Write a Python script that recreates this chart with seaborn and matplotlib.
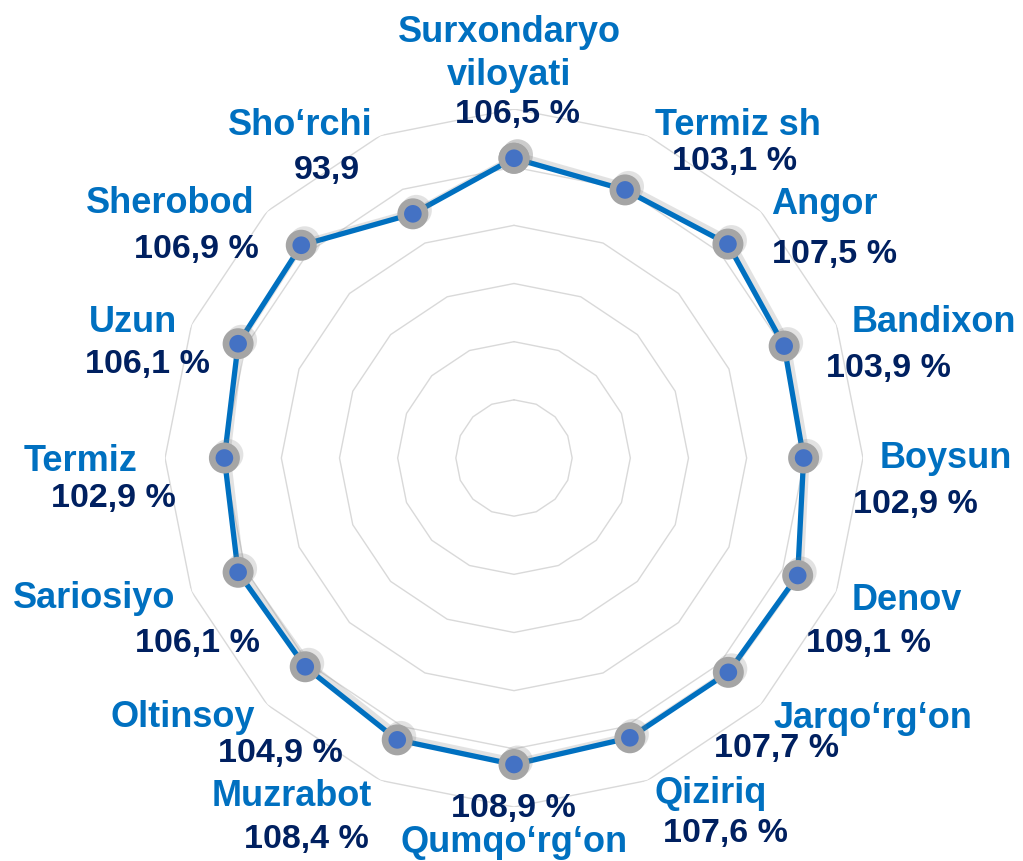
import numpy as np
import pandas as pd
import matplotlib
matplotlib.use("Agg")
import matplotlib.pyplot as plt
import matplotlib.patheffects as pe
import seaborn as sns

# data (clockwise from top)
districts = ["Surxondaryo\nviloyati", "Termiz sh", "Angor", "Bandixon", "Boysun",
             "Denov", "Jarqo‘rg‘on", "Qiziriq", "Qumqo‘rg‘on", "Muzrabot",
             "Oltinsoy", "Sariosiyo", "Termiz", "Uzun", "Sherobod", "Sho‘rchi"]
growth = [106.5, 103.1, 107.5, 103.9, 102.9, 109.1, 107.7, 107.6,
          108.9, 108.4, 104.9, 106.1, 102.9, 106.1, 106.9, 93.9]
units = [" %"] * 15 + [""]

# label placement in pixels: (x center, baseline y) for name and value
name_pos = [(509, 42), (738, 135), (824, 214), (934, 332), (946, 468), (907, 610),
            (873, 728), (711, 803), (514, 852), (292, 806), (183, 727), (94, 608),
            (81, 471), (133, 332), (170, 213), (300, 135)]
value_pos = [(517, 123), (735, 170), (835, 263), (888, 377), (915, 513), (868, 652),
             (777, 757), (725, 842), (513, 817), (306, 848), (280, 762), (197, 652),
             (113, 507), (147, 373), (196, 258), (327, 179)]

W, H = 1023, 861
cx, cy, R = 514, 458, 349
rmax = 124

sns.set_theme(style="white")
plt.rcParams["font.family"] = ["Liberation Sans", "DejaVu Sans"]

fig = plt.figure(figsize=(W / 100, H / 100), dpi=100)
ax = fig.add_axes([(cx - R) / W, (H - cy - R) / H, 2 * R / W, 2 * R / H], projection="polar")
ax.set_theta_zero_location("N")
ax.set_theta_direction(-1)
ax.set_ylim(0, rmax)
ax.axis("off")

n = len(districts)
theta = np.arange(n) * 2 * np.pi / n
theta_c = np.append(theta, 2 * np.pi)

# polygon grid rings
for lvl in np.linspace(0, rmax, 7)[1:]:
    ax.plot(theta_c, [lvl] * (n + 1), color="#D9D9D9", lw=1.0, zorder=1)

df = pd.DataFrame({"theta": theta_c, "value": growth + [growth[0]]})
sns.lineplot(data=df, x="theta", y="value", sort=False, errorbar=None, ax=ax,
             color="#0070C0", lw=3.8, marker="o", markersize=17.5,
             markerfacecolor="#4472C4", markeredgecolor="#A5A5A5", markeredgewidth=4.8,
             zorder=3,
             path_effects=[pe.SimpleLineShadow(offset=(2.5, 2.5), shadow_color="#7F7F7F", alpha=0.22),
                           pe.Normal()])
ax.set_ylim(0, rmax)

# labels
for i, name in enumerate(districts):
    x, y = name_pos[i]
    for k, line in enumerate(name.split("\n")):
        fig.text(x / W, 1 - (y + 43 * k) / H, line, ha="center", va="baseline",
                 fontsize=26, fontweight="bold", color="#0070C0")
    vx, vy = value_pos[i]
    txt = f"{growth[i]:.1f}".replace(".", ",") + units[i]
    fig.text(vx / W, 1 - vy / H, txt, ha="center", va="baseline",
             fontsize=24.5, fontweight="bold", color="#002060")

fig.savefig("out.png", dpi=100)
